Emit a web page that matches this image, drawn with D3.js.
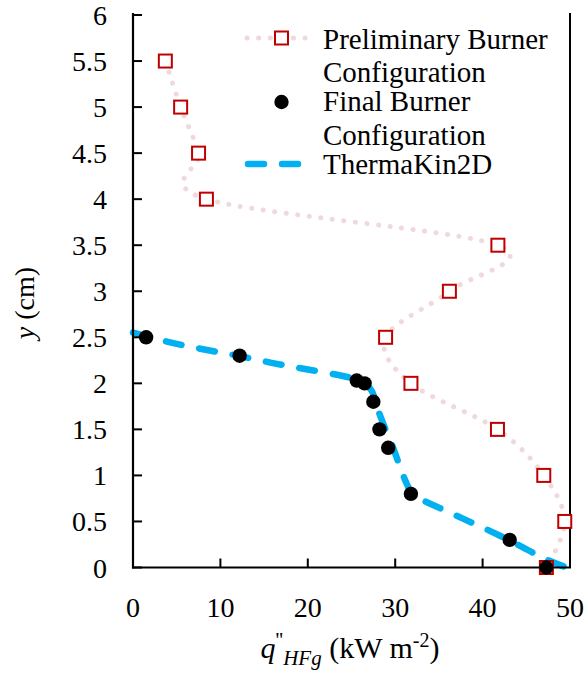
<!DOCTYPE html>
<html><head><meta charset="utf-8">
<script src="https://cdn.jsdelivr.net/npm/d3@7"></script>
<style>
html,body{margin:0;padding:0;background:#fff;}
svg text{font-family:'Liberation Serif' !important;}
</style></head>
<body>
<svg id="fig" width="587" height="675"></svg>
<script>
// Data
const prelimX = [3.7, 5.45, 7.5, 8.4, 41.75, 36.2, 28.9, 31.8, 41.7, 47.0, 49.4, 47.3];
const prelimY = [5.5, 5.0, 4.5, 4.0, 3.5, 3.0, 2.5, 2.0, 1.5, 1.0, 0.5, 0.0];
const finalX = [1.5, 12.2, 25.6, 26.5, 27.5, 28.2, 29.2, 31.8, 43.1, 47.3];
const finalY = [2.5, 2.3, 2.03, 2.0, 1.8, 1.5, 1.3, 0.8, 0.3, 0.0];
const tkX = [0, 4, 8, 12, 16, 20, 24, 25.6, 26.5, 27.3, 28.0, 28.8, 29.6, 30.3, 31.0, 31.8, 33.0, 35.0, 38.0, 41.0, 44.0, 47.0, 49.6];
const tkY = [2.55, 2.45, 2.37, 2.30, 2.22, 2.15, 2.08, 2.04, 2.0, 1.92, 1.72, 1.52, 1.34, 1.16, 0.98, 0.83, 0.74, 0.65, 0.52, 0.39, 0.25, 0.10, 0.0];
const xTicks = [0, 10, 20, 30, 40, 50];
const yTicks = [0, 0.5, 1, 1.5, 2, 2.5, 3, 3.5, 4, 4.5, 5, 5.5, 6];
const legendLabels = [["Preliminary Burner", "Configuration"], ["Final Burner", "Configuration"], ["ThermaKin2D"]];

const FONT = "'Liberation Serif'";
const svg = d3.select("#fig");
const L = 133, R = 570, T = 15, B = 567.5;
const x = d3.scaleLinear().domain([0, 50]).range([L, R]);
const y = d3.scaleLinear().domain([0, 6]).range([B, T]);
const FS = 28;

function txt(sel, fs) { return sel.style("font-family", FONT, "important").attr("font-size", fs || FS).attr("fill", "#000"); }

const line = d3.line().x(d => x(d[0])).y(d => y(d[1]));
const prelim = prelimX.map((v, i) => [v, prelimY[i]]);
const fin = finalX.map((v, i) => [v, finalY[i]]);
const tk = tkX.map((v, i) => [v, tkY[i]]);

svg.append("path").attr("d", line.curve(d3.curveCardinal.tension(0))(prelim))
  .attr("fill", "none").attr("stroke", "#f0d9db").attr("stroke-width", 5)
  .attr("stroke-linecap", "round").attr("stroke-dasharray", "0.1 11.5");

svg.append("path").attr("d", line.curve(d3.curveCatmullRom)(tk))
  .attr("fill", "none").attr("stroke", "#00b0f0").attr("stroke-width", 6.5)
  .attr("stroke-linecap", "round").attr("stroke-dasharray", "16 18");

// Axes
const axisG = svg.append("g");
axisG.append("line").attr("x1", L).attr("x2", L).attr("y1", T - 2).attr("y2", B + 1).attr("stroke", "#000").attr("stroke-width", 2.2);
axisG.append("line").attr("x1", L - 1).attr("x2", R + 1).attr("y1", B).attr("y2", B).attr("stroke", "#000").attr("stroke-width", 2.2);
axisG.append("line").attr("x1", R).attr("x2", R).attr("y1", T - 2).attr("y2", B).attr("stroke", "#000").attr("stroke-width", 2);

yTicks.forEach(t => {
  axisG.append("line").attr("x1", L).attr("x2", L + 9).attr("y1", y(t)).attr("y2", y(t)).attr("stroke", "#000").attr("stroke-width", 2);
  txt(axisG.append("text")).attr("x", 107).attr("y", y(t) + 10).attr("text-anchor", "end").text(String(t));
});
xTicks.forEach(t => {
  axisG.append("line").attr("x1", x(t)).attr("x2", x(t)).attr("y1", B).attr("y2", B - 9).attr("stroke", "#000").attr("stroke-width", 2);
  txt(axisG.append("text")).attr("x", x(t)).attr("y", 617).attr("text-anchor", "middle").text(String(t));
});

// Markers
svg.append("g").selectAll("rect").data(prelim).join("rect")
  .attr("x", d => x(d[0]) - 6.5).attr("y", d => y(d[1]) - 6.5)
  .attr("width", 13).attr("height", 13)
  .attr("fill", "#fff").attr("stroke", "#c00000").attr("stroke-width", 2);

svg.append("g").selectAll("circle").data(fin).join("circle")
  .attr("cx", d => x(d[0])).attr("cy", d => y(d[1])).attr("r", 7.2).attr("fill", "#000");

// Axis titles
const xt = txt(svg.append("text"), 30).attr("x", 350).attr("y", 658).attr("text-anchor", "middle");
xt.append("tspan").attr("font-style", "italic").text("q");
xt.append("tspan").attr("font-size", 21).attr("dy", -11).text("''");
xt.append("tspan").attr("font-size", 21).attr("font-style", "italic").attr("dy", 18).text("HFg");
xt.append("tspan").attr("dy", -7).text(" (kW m");
xt.append("tspan").attr("font-size", 20).attr("dy", -11).text("-2");
xt.append("tspan").attr("dy", 11).text(")");

const yt = txt(svg.append("text")).attr("transform", "translate(34,303) rotate(-90)").attr("text-anchor", "middle");
yt.append("tspan").attr("font-style", "italic").text("y");
yt.append("tspan").text(" (cm)");

// Legend
const lg = svg.append("g");
lg.append("line").attr("x1", 247).attr("x2", 310).attr("y1", 38).attr("y2", 38)
  .attr("stroke", "#f0d9db").attr("stroke-width", 5).attr("stroke-linecap", "round").attr("stroke-dasharray", "0.1 11.5");
lg.append("rect").attr("x", 281.5 - 6.5).attr("y", 38 - 6.5).attr("width", 13).attr("height", 13)
  .attr("fill", "#fff").attr("stroke", "#c00000").attr("stroke-width", 2);
lg.append("circle").attr("cx", 281.5).attr("cy", 102).attr("r", 7.2).attr("fill", "#000");
lg.append("line").attr("x1", 248).attr("x2", 298).attr("y1", 164).attr("y2", 164)
  .attr("stroke", "#00b0f0").attr("stroke-width", 6.5).attr("stroke-linecap", "round").attr("stroke-dasharray", "16 18");
const baselines = [[49, 82], [111, 145], [174]];
legendLabels.forEach((lines, i) => {
  lines.forEach((s, j) => {
    txt(lg.append("text"), 29).attr("x", 323).attr("y", baselines[i][j]).text(s);
  });
});
</script>
</body></html>
